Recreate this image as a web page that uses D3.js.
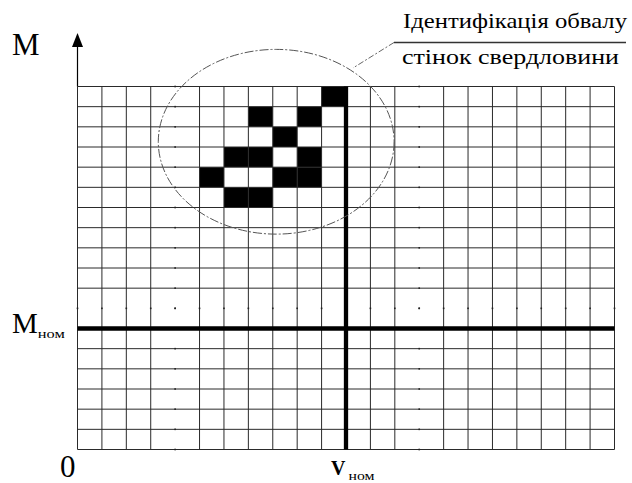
<!DOCTYPE html>
<html>
<head>
<meta charset="utf-8">
<script src="https://cdn.jsdelivr.net/npm/d3@7"></script>
<style>
  body{margin:0;background:#fff;}
</style>
</head>
<body>
<svg id="chart" width="632" height="483"></svg>
<script>
'use strict';

// grid: 22 columns (V), 18 rows (M)
var nCols=22
  , nRows=18
  , vNom=11
  , mNom=6

// grid lines that are not drawn (only dots remain)
var gapCols=[4,14]
  , gapRows=[7]

// black cells [v, m] (lower-left corner, m counted from bottom)
var cellsV=[10, 7, 9, 8, 6, 7, 9, 5, 8, 9, 6, 7]
  , cellsM=[17,16,16,15,14,14,14,13,13,13,12,12]

var caption=['Ідентифікація обвалу','стінок свердловини']

var serif='"Liberation Serif", "Times New Roman", Times, "DejaVu Serif", serif'

var svg=d3.select('#chart')

var x=d3.scaleLinear().domain([0,nCols]).range([77.5,614.5])
  , y=d3.scaleLinear().domain([0,nRows]).range([449.5,86.5])

var cols=d3.range(0,nCols+1)
  , rows=d3.range(0,nRows+1)

// black cells
svg.append('g')
    .selectAll('rect')
    .data(cellsV)
    .join('rect')
    .attr('x',function(d){return x(d);})
    .attr('y',function(d,i){return y(cellsM[i]+1);})
    .attr('width',function(d){return x(d+1)-x(d);})
    .attr('height',function(d,i){return y(cellsM[i])-y(cellsM[i]+1);})
    .attr('fill','#000');

// vertical grid lines
svg.append('g')
    .selectAll('line')
    .data(cols.filter(function(c){return gapCols.indexOf(c)<0;}))
    .join('line')
    .attr('x1',function(d){return x(d);})
    .attr('x2',function(d){return x(d);})
    .attr('y1',y(0))
    .attr('y2',y(nRows))
    .attr('stroke','#2a2a2a')
    .attr('stroke-width',1);

// horizontal grid lines
svg.append('g')
    .selectAll('line')
    .data(rows.filter(function(r){return gapRows.indexOf(r)<0;}))
    .join('line')
    .attr('x1',x(0))
    .attr('x2',x(nCols))
    .attr('y1',function(d){return y(d);})
    .attr('y2',function(d){return y(d);})
    .attr('stroke','#2a2a2a')
    .attr('stroke-width',1);

// dots where missing lines cross
var dots=[]
gapCols.forEach(function(c){
    rows.forEach(function(r){ dots.push([c,r]); });
});
gapRows.forEach(function(r){
    cols.forEach(function(c){ dots.push([c,r]); });
});
svg.append('g')
    .selectAll('rect')
    .data(dots)
    .join('rect')
    .attr('x',function(d){return x(d[0])-0.8;})
    .attr('y',function(d){return y(d[1])-0.8;})
    .attr('width',1.6)
    .attr('height',1.6)
    .attr('fill','#222');

// nominal lines (thick)
svg.append('line')
    .attr('x1',x(0)).attr('x2',x(nCols))
    .attr('y1',y(mNom)).attr('y2',y(mNom))
    .attr('stroke','#000').attr('stroke-width',4.3);
svg.append('line')
    .attr('x1',x(vNom)).attr('x2',x(vNom))
    .attr('y1',y(0)).attr('y2',y(nRows))
    .attr('stroke','#000').attr('stroke-width',4.3);

// M axis with arrow
svg.append('line')
    .attr('x1',x(0)).attr('x2',x(0))
    .attr('y1',y(nRows)).attr('y2',44)
    .attr('stroke','#000').attr('stroke-width',1.2);
svg.append('path')
    .attr('d','M'+x(0)+',33 L'+(x(0)-5.5)+',47 L'+(x(0)+5.5)+',47 Z')
    .attr('fill','#000');

// ellipse of the collapse area
svg.append('ellipse')
    .attr('cx',x(8.14))
    .attr('cy',y(15.26))
    .attr('rx',x(4.83)-x(0))
    .attr('ry',y(0)-y(4.58))
    .attr('fill','none')
    .attr('stroke','#555')
    .attr('stroke-width',1)
    .attr('stroke-dasharray','9,2,2,2');

// caption with leader
svg.append('line')
    .attr('x1',394).attr('x2',626)
    .attr('y1',42.5).attr('y2',42.5)
    .attr('stroke','#333').attr('stroke-width',1.3);
svg.append('line')
    .attr('x1',394).attr('y1',42.5)
    .attr('x2',353).attr('y2',68)
    .attr('stroke','#666').attr('stroke-width',1)
    .attr('stroke-dasharray','6,2,2,2');
svg.append('text')
    .attr('x',403).attr('y',28)
    .attr('font-family',serif)
    .attr('font-size',21)
    .attr('textLength',224)
    .attr('lengthAdjust','spacingAndGlyphs')
    .text(caption[0]);
svg.append('text')
    .attr('x',402).attr('y',64)
    .attr('font-family',serif)
    .attr('font-size',21)
    .attr('textLength',217)
    .attr('lengthAdjust','spacingAndGlyphs')
    .text(caption[1]);

// axis labels
svg.append('text')
    .attr('x',12).attr('y',55)
    .attr('font-family',serif)
    .attr('font-size',31)
    .text('M');

var mn=svg.append('text')
    .attr('x',12).attr('y',333)
    .attr('font-family',serif)
    .attr('font-size',29)
mn.append('tspan').text('M');
mn.append('tspan')
    .attr('font-size',13)
    .attr('dy',5)
    .attr('textLength',27)
    .attr('lengthAdjust','spacingAndGlyphs')
    .text('ном');

svg.append('text')
    .attr('x',60).attr('y',477)
    .attr('font-family',serif)
    .attr('font-size',31)
    .text('0');

var vn=svg.append('text')
    .attr('x',331).attr('y',475)
    .attr('font-family',serif)
    .attr('font-size',20)
    .attr('font-weight','bold')
vn.append('tspan').text('V');
vn.append('tspan')
    .attr('font-size',12)
    .attr('font-weight','normal')
    .attr('dx',3).attr('dy',5)
    .attr('textLength',26)
    .attr('lengthAdjust','spacingAndGlyphs')
    .text('ном');
</script>
</body>
</html>
